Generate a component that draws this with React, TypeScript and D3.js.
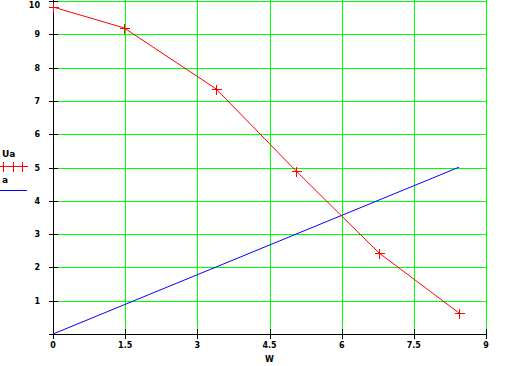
import * as d3 from 'd3'

// Ua series (red, + markers)
const uaX = [0, 1.48, 3.39, 5.05, 6.78, 8.44]
const uaY = [9.82, 9.19, 7.36, 4.9, 2.43, 0.63]
// a series (blue straight line)
const aX = [0, 8.44]
const aY = [0, 5.01]

const xTicks = [0, 1.5, 3, 4.5, 6, 7.5, 9]
const xTickLabels = ['0', '1.5', '3', '4.5', '6', '7.5', '9']
const yTicks = [1, 2, 3, 4, 5, 6, 7, 8, 9, 10]
const yTickLabels = ['1', '2', '3', '4', '5', '6', '7', '8', '9', '10']

const W = 527
const H = 366
const margin = { left: 53, right: 41, top: 1, bottom: 32 }

export default function App() {
  const x = d3.scaleLinear().domain([0, 9]).range([margin.left, W - margin.right])
  const y = d3.scaleLinear().domain([0, 10]).range([H - margin.bottom, margin.top])

  const line = d3
    .line<[number, number]>()
    .x((d) => x(d[0]))
    .y((d) => y(d[1]))

  const uaPts: [number, number][] = uaX.map((v, i) => [v, uaY[i]])
  const aPts: [number, number][] = aX.map((v, i) => [v, aY[i]])

  const x0 = x(0)
  const y0 = y(0)
  const xEnd = x(9)
  const font = { fontFamily: 'DejaVu Sans', fontSize: 8, fontWeight: 'bold' as const }

  const cross = (cx: number, cy: number, key: string) => (
    <g key={key} stroke="#ff0000" strokeWidth={1}>
      <line x1={cx - 5} x2={cx + 5} y1={cy} y2={cy} />
      <line x1={cx} x2={cx} y1={cy - 5} y2={cy + 5} />
    </g>
  )

  return (
    <div style={{ position: 'fixed', left: 0, top: 0 }}>
      <svg width={W} height={H} style={{ display: 'block', background: '#fff' }} shapeRendering="crispEdges">
        {/* grid */}
        <g stroke="#00ff00" strokeWidth={1}>
          {yTicks.map((t) => (
            <line key={'gy' + t} x1={x0 + 5} x2={xEnd} y1={Math.round(y(t)) + 0.5} y2={Math.round(y(t)) + 0.5} />
          ))}
          {xTicks.slice(1).map((t) => (
            <line key={'gx' + t} x1={Math.round(x(t)) + 0.5} x2={Math.round(x(t)) + 0.5} y1={0} y2={y0 - 5} />
          ))}
        </g>

        {/* axes */}
        <g stroke="#000" strokeWidth={1}>
          <line x1={x0 + 0.5} x2={x0 + 0.5} y1={0} y2={y0 + 5} />
          <line x1={x0 - 4} x2={xEnd + 1} y1={y0 + 0.5} y2={y0 + 0.5} />
          {yTicks.map((t) => (
            <line key={'ty' + t} x1={x0 - 4} x2={x0 + 5} y1={Math.round(y(t)) + 0.5} y2={Math.round(y(t)) + 0.5} />
          ))}
          {xTicks.map((t) => (
            <line key={'tx' + t} x1={Math.round(x(t)) + 0.5} x2={Math.round(x(t)) + 0.5} y1={y0 - 5} y2={y0 + 5} />
          ))}
        </g>

        {/* tick labels */}
        {yTicks.map((t, i) => (
          <text key={'ly' + t} x={x0 - 13} y={Math.max(y(t) + 3, 8)} textAnchor="end" {...font}>
            {yTickLabels[i]}
          </text>
        ))}
        {xTicks.map((t, i) => (
          <text key={'lx' + t} x={x(t)} y={y0 + 14} textAnchor="middle" {...font}>
            {xTickLabels[i]}
          </text>
        ))}
        <text x={x(4.5)} y={H - 4} textAnchor="middle" {...font}>
          W
        </text>

        {/* series */}
        <path d={line(aPts) ?? ''} fill="none" stroke="#0000ff" strokeWidth={1} shapeRendering="auto" />
        <path d={line(uaPts) ?? ''} fill="none" stroke="#ff0000" strokeWidth={1} shapeRendering="auto" />
        {uaPts.map((p, i) => cross(Math.round(x(p[0])) + 0.5, Math.round(y(p[1])) + 0.5, 'm' + i))}

        {/* legend */}
        <text x={2} y={157} {...font} fontSize={9}>
          Ua
        </text>
        <line x1={0} x2={27} y1={166.5} y2={166.5} stroke="#ff0000" />
        {[3, 13, 22].map((lx) => cross(lx + 0.5, 166.5, 'lg' + lx))}
        <text x={2} y={183} {...font} fontSize={9}>
          a
        </text>
        <line x1={0} x2={27} y1={190.5} y2={190.5} stroke="#0000ff" />
      </svg>
    </div>
  )
}
